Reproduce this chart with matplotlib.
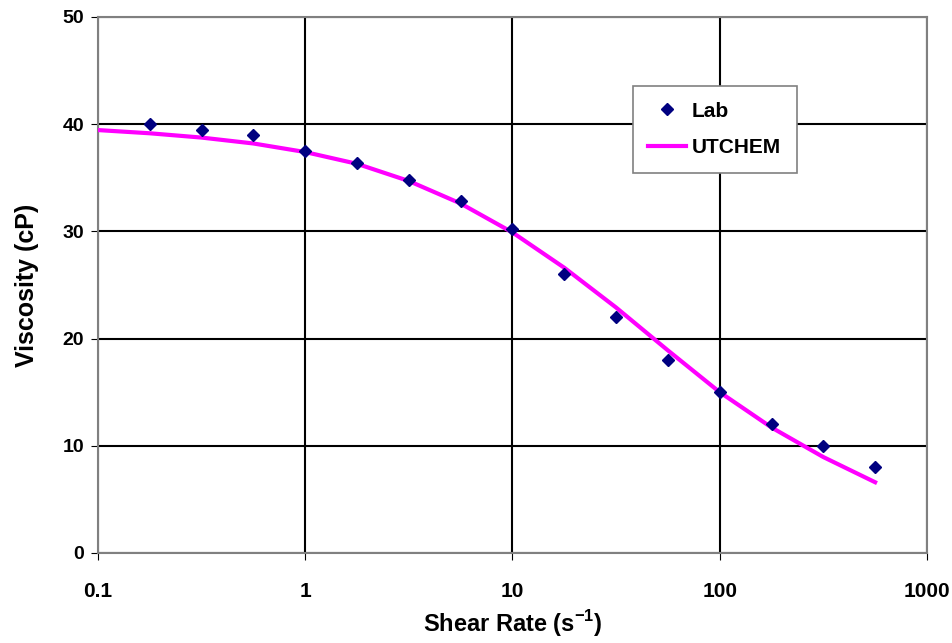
import matplotlib.pyplot as plt

# shear rate (1/s) and viscosity (cP)
lab_rate = [0.178, 0.316, 0.562, 1, 1.78, 3.16, 5.62, 10, 17.8, 31.6, 56.2, 100, 178, 316, 562]
lab_visc = [40, 39.5, 39, 37.5, 36.4, 34.8, 32.8, 30.2, 26, 22, 18, 15, 12, 10, 8]

ut_rate = [0.1, 0.178, 0.316, 0.562, 1, 1.78, 3.16, 5.62, 10, 17.8, 31.6, 56.2, 100, 178, 316, 562]
ut_visc = [39.45, 39.15, 38.75, 38.2, 37.4, 36.3, 34.7, 32.6, 29.9, 26.6, 22.9, 18.9, 15.0, 11.7, 8.95, 6.6]

plt.rcParams['font.family'] = ['Liberation Sans', 'DejaVu Sans']
plt.rcParams['mathtext.fontset'] = 'custom'
plt.rcParams['mathtext.bf'] = 'Liberation Sans:bold'
plt.rcParams['mathtext.rm'] = 'Liberation Sans'

fig = plt.figure(figsize=(9.53, 6.43), dpi=100)
ax = fig.add_axes([0.1028, 0.140, 0.8699, 0.8336])

ax.plot(lab_rate, lab_visc, linestyle='none', marker='D', markersize=6.5,
        color='#000080', label='Lab', zorder=4)
ax.plot(ut_rate, ut_visc, color='#ff00ff', linewidth=3, label='UTCHEM', zorder=3)

ax.set_xscale('log')
ax.set_xlim(0.1, 1000)
ax.set_ylim(0, 50)
ax.set_xticks([0.1, 1, 10, 100, 1000])
ax.set_xticklabels(['0.1', '1', '10', '100', '1000'])
ax.set_yticks([0, 10, 20, 30, 40, 50])
ax.minorticks_off()
ax.grid(True, color='black', linewidth=1.5)
ax.set_axisbelow(True)
for s in ax.spines.values():
    s.set_color('#808080')
    s.set_linewidth(1.5)
ax.tick_params(axis='x', labelsize=15, length=5, color='black', pad=16)
ax.tick_params(axis='y', labelsize=14, length=5, color='black', pad=5)
for t in ax.get_xticklabels() + ax.get_yticklabels():
    t.set_fontweight('bold')

ax.set_xlabel('Shear Rate (s$^{\\mathbf{-1}}$)', fontsize=17, fontweight='bold', labelpad=5)
ax.set_ylabel('Viscosity (cP)', fontsize=18, fontweight='bold', labelpad=17)

leg = ax.legend(loc='upper left', bbox_to_anchor=(0.645, 0.871), borderaxespad=0,
                prop={'weight': 'bold', 'size': 15}, fancybox=False,
                framealpha=1, edgecolor='#808080', handlelength=1.8,
                handletextpad=0.3, borderpad=0.75, labelspacing=0.85)
leg.get_frame().set_linewidth(1.2)

fig.savefig('out.png', dpi=100)
